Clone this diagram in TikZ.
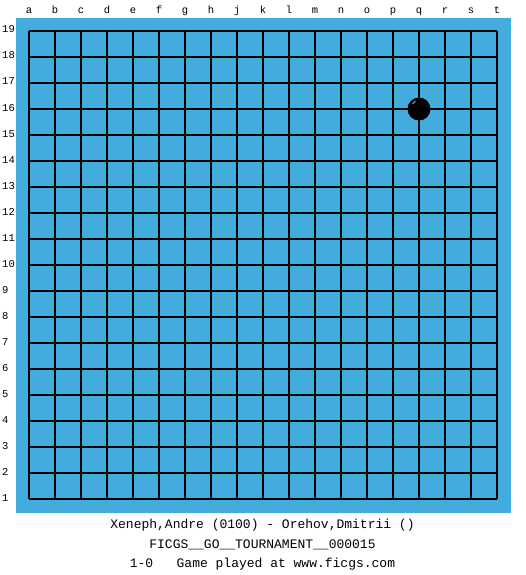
\documentclass[tikz,border=0pt]{standalone}
\usepackage{fontspec}
\setmonofont{Liberation Mono}
\definecolor{board}{RGB}{66,172,222}
\begin{document}
\begin{tikzpicture}[x=1pt,y=-1pt,
  coordlabel/.style={inner sep=0pt,font=\ttfamily\fontsize{10.5}{12}\selectfont},
  infotext/.style={inner sep=0pt,anchor=base,font=\ttfamily\fontsize{13}{15}\selectfont},
  gridline/.style={line width=1.2pt,black}]
\useasboundingbox (0,0) rectangle (525,575);
\fill[white] (0,0) rectangle (525,575);
\fill[board] (16,18) rectangle (511,513);
\foreach \i in {0,...,18} {
  \draw[gridline] (29+26*\i,31) -- (29+26*\i,499);
  \draw[gridline] (29,31+26*\i) -- (497,31+26*\i);
}
\foreach \l [count=\i from 0] in {a,b,c,d,e,f,g,h,j,k,l,m,n,o,p,q,r,s,t} {
  \node[coordlabel,anchor=base] (col\l) at (29+26*\i,14) {\l};
}
\foreach \n in {1,...,19} {
  \node[coordlabel,anchor=base west] (row\n) at (2,31+26*19-26*\n+2) {\n};
}
\node[circle,fill=black,minimum size=23pt,inner sep=0pt] (stone) at (419,109) {};
\draw[white,line width=0.6pt] (412.5,104) arc[start angle=210,end angle=240,radius=8];
\node[infotext] (players) at (262.5,528) {Xeneph,Andre (0100) - Orehov,Dmitrii ()};
\node[infotext] (event) at (262.5,548) {FICGS\_\_GO\_\_TOURNAMENT\_\_000015};
\node[infotext] (result) at (262.5,567) {1-0\ \ \ Game played at www.ficgs.com};
\end{tikzpicture}
\end{document}
